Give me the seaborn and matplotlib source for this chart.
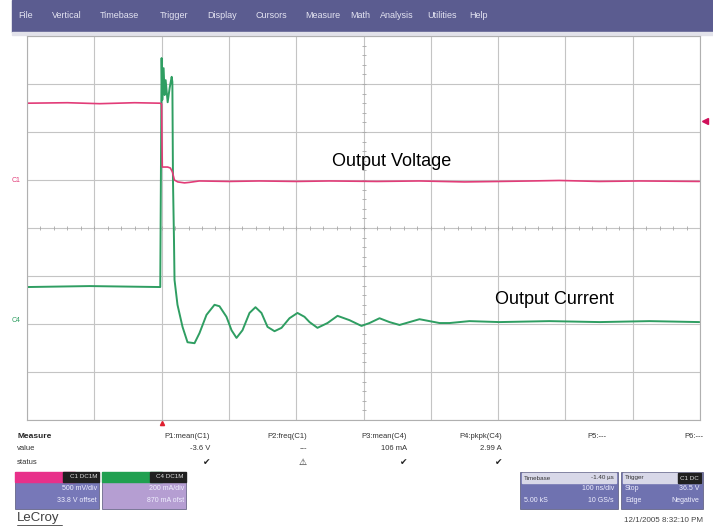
import numpy as np
import pandas as pd
import matplotlib
matplotlib.use("Agg")
import matplotlib.pyplot as plt
import seaborn as sns
from matplotlib.patches import Rectangle

# ---- trace data, in screen divisions (x: -5..5, y: -4..4) ----
volt_t = [-5.0, -4.4, -3.92, -3.4, -3.02, -3.0, -2.99, -2.91, -2.87, -2.84, -2.81,
          -2.76, -2.66, -2.59, -2.44, -2.0, -1.55, -1.0, -0.51, 0.2, 0.83, 1.5,
          2.02, 2.5, 2.91, 3.5, 4.1, 4.99]
volt_v = [2.60, 2.61, 2.59, 2.61, 2.60, 2.58, 1.27, 1.27, 1.25, 1.17, 1.00,
          0.96, 0.94, 0.95, 0.98, 0.97, 0.98, 0.97, 0.98, 0.97, 0.98, 0.96,
          0.97, 0.98, 0.99, 0.97, 0.98, 0.97]

curr_t = [-5.0, -4.07, -3.02, -3.0, -2.99, -2.97, -2.955, -2.94, -2.91, -2.88,
          -2.85, -2.84, -2.831, -2.816, -2.808, -2.764, -2.689, -2.615, -2.511,
          -2.437, -2.333, -2.214, -2.140, -2.036, -1.961, -1.887, -1.798, -1.694,
          -1.605, -1.516, -1.426, -1.322, -1.218, -1.100, -0.981, -0.877, -0.802,
          -0.684, -0.535, -0.386, -0.208, -0.030, 0.089, 0.238, 0.386, 0.535,
          0.684, 0.832, 0.981, 1.129, 1.278, 1.575, 2.02, 2.76, 3.51, 4.25, 4.99]
curr_v = [-1.23, -1.21, -1.23, 3.54, 2.67, 3.33, 2.77, 3.08, 2.62, 2.92,
          3.15, 3.04, 1.00, -0.25, -1.08, -1.60, -2.06, -2.38, -2.40,
          -2.19, -1.81, -1.60, -1.63, -1.85, -2.13, -2.29, -2.13, -1.77,
          -1.65, -1.77, -2.06, -2.15, -2.08, -1.88, -1.77, -1.85, -1.96,
          -2.08, -1.98, -1.83, -1.92, -2.04, -1.98, -1.88, -1.96, -2.02,
          -1.96, -1.90, -1.94, -1.98, -1.98, -1.94, -1.96, -1.94, -1.96, -1.94, -1.96]

menu_items = ["File", "Vertical", "Timebase", "Trigger", "Display", "Cursors",
              "Measure", "Math", "Analysis", "Utilities", "Help"]
menu_x = [18, 52, 100, 160, 207, 255, 305, 350, 380, 427, 469]
param_names = ["P1:mean(C1)", "P2:freq(C1)", "P3:mean(C4)", "P4:pkpk(C4)", "P5:---", "P6:---"]
param_values = ["-3.6 V", "---", "106 mA", "2.99 A", "", ""]
param_status = ["\u2714", "\u26a0", "\u2714", "\u2714", "", ""]

PINK = "#e23c78"
GREEN = "#2f9e62"
W, H = 713, 527

sns.set_style("white")
plt.rcParams["font.family"] = ["Liberation Sans", "DejaVu Sans"]

fig = plt.figure(figsize=(W / 100, H / 100), dpi=100)

# overlay in pixel coordinates for the scope chrome
bg = fig.add_axes([0, 0, 1, 1])
bg.set_xlim(0, W)
bg.set_ylim(H, 0)
bg.axis("off")

# menu bar
bg.add_patch(Rectangle((12, 0), W - 12, 32, color="#5b5c90"))
bg.add_patch(Rectangle((12, 32), W - 12, 3, color="#e2e2ea"))
for item, mx in zip(menu_items, menu_x):
    bg.text(mx, 16, item, color="#e4e4f2", fontsize=6.5, va="center")

# grid axes
x0, x1, y0, y1 = 27, 700, 36, 420
ax = fig.add_axes([x0 / W, 1 - y1 / H, (x1 - x0) / W, (y1 - y0) / H])
ax.set_xlim(-5, 5)
ax.set_ylim(-4, 4)
ax.set_xticks(np.arange(-5, 6, 1))
ax.set_yticks(np.arange(-4, 5, 1))
ax.grid(True, color="#c4c4c4", lw=0.8)
ax.tick_params(length=0, labelbottom=False, labelleft=False)
for s in ax.spines.values():
    s.set_color("#b0b0b0")
    s.set_linewidth(0.8)

# minor ticks on the centre cross
minor = np.arange(-5, 5.01, 0.2)
ax.plot(minor, np.zeros_like(minor), "|", color="#a8a8a8", ms=3, mew=0.6)
minor_y = np.arange(-4, 4.01, 0.2)
ax.plot(np.zeros_like(minor_y), minor_y, "_", color="#a8a8a8", ms=3, mew=0.6)

volt = pd.DataFrame({"t": volt_t, "v": volt_v})
curr = pd.DataFrame({"t": curr_t, "v": curr_v})
sns.lineplot(data=curr, x="t", y="v", sort=False, estimator=None, color=GREEN, lw=1.4, ax=ax)
sns.lineplot(data=volt, x="t", y="v", sort=False, estimator=None, color=PINK, lw=1.2, ax=ax)
ax.set_xlabel("")
ax.set_ylabel("")

ax.text(-0.475, 1.375, "Output Voltage", fontsize=13, color="black", va="center")
ax.text(1.95, -1.5, "Output Current", fontsize=13, color="black", va="center")

# channel offset markers, trigger markers
ax.text(-5.1, 1.0, "C1", color=PINK, fontsize=5, ha="right", va="center", clip_on=False)
ax.text(-5.1, -1.92, "C4", color=GREEN, fontsize=5, ha="right", va="center", clip_on=False)
ax.plot([5.08], [2.23], marker="<", color="#d0105a", ms=5, clip_on=False)
ax.plot([-3.0], [-4.06], marker="^", color="#e02030", ms=3, clip_on=False)

# measurement table
bg.text(17, 436, "Measure", fontsize=6, fontweight="bold", va="center")
bg.text(17, 449, "value", fontsize=5.5, va="center", color="#333333")
bg.text(17, 462, "status", fontsize=5.5, va="center", color="#333333")
col_x = [210, 307, 407, 502, 606, 703]
for cx, name, val, st in zip(col_x, param_names, param_values, param_status):
    bg.text(cx, 436, name, fontsize=5.5, ha="right", va="center", color="#333333")
    bg.text(cx, 449, val, fontsize=5.5, ha="right", va="center", color="#333333")
    if st:
        bg.text(cx, 462, st, fontsize=6.5, ha="right", va="center", color="#222222")

# channel boxes
def chan_box(x, label, color, body, lines):
    bg.add_patch(Rectangle((x, 472), 84, 37, color=body, ec="#555577", lw=0.5))
    bg.add_patch(Rectangle((x, 472), 60, 10, color=color))
    bg.add_patch(Rectangle((x + 48, 472), 36, 10, color="#202020"))
    bg.text(x + 82, 477, label, fontsize=4.5, color="#dddddd", ha="right", va="center")
    bg.text(x + 82, 489, lines[0], fontsize=5, color="#f0f0ff", ha="right", va="center")
    bg.text(x + 82, 500, lines[1], fontsize=5, color="#f0f0ff", ha="right", va="center")

chan_box(15, "C1 DC1M", "#e8308a", "#7778b8", ["500 mV/div", "33.8 V offset"])
chan_box(102, "C4 DC1M", "#20a050", "#b59ed2", ["200 mA/div", "870 mA ofst"])

# timebase / trigger boxes
bg.add_patch(Rectangle((520, 472), 98, 37, color="#6f72b0", ec="#555577", lw=0.5))
bg.add_patch(Rectangle((522, 473), 94, 10, color="#d8d8e8"))
bg.text(524, 478, "Timebase", fontsize=4.5, va="center", color="#333333")
bg.text(614, 478, "-1.40 \u00b5s", fontsize=4.5, ha="right", va="center", color="#333333")
bg.text(614, 489, "100 ns/div", fontsize=5, ha="right", va="center", color="#f0f0ff")
bg.text(524, 500, "5.00 kS", fontsize=5, va="center", color="#f0f0ff")
bg.text(614, 500, "10 GS/s", fontsize=5, ha="right", va="center", color="#f0f0ff")

bg.add_patch(Rectangle((621, 472), 82, 37, color="#6f72b0", ec="#555577", lw=0.5))
bg.add_patch(Rectangle((623, 473), 78, 10, color="#d8d8e8"))
bg.add_patch(Rectangle((678, 473), 23, 10, color="#202020"))
bg.text(625, 478, "Trigger", fontsize=4.5, va="center", color="#333333")
bg.text(699, 478, "C1 DC", fontsize=4.5, ha="right", va="center", color="#dddddd")
bg.text(625, 489, "Stop", fontsize=5, va="center", color="#f0f0ff")
bg.text(699, 489, "36.5 V", fontsize=5, ha="right", va="center", color="#f0f0ff")
bg.text(625, 500, "Edge", fontsize=5, va="center", color="#f0f0ff")
bg.text(699, 500, "Negative", fontsize=5, ha="right", va="center", color="#f0f0ff")

bg.text(17, 518, "LeCroy", fontsize=9.5, va="center", color="#404040")
bg.plot([17, 62], [525, 525], color="#404040", lw=0.6)
bg.text(703, 521, "12/1/2005 8:32:10 PM", fontsize=5.8, ha="right", va="center", color="#444444")

fig.savefig("out.png", dpi=100)
plt.close(fig)
